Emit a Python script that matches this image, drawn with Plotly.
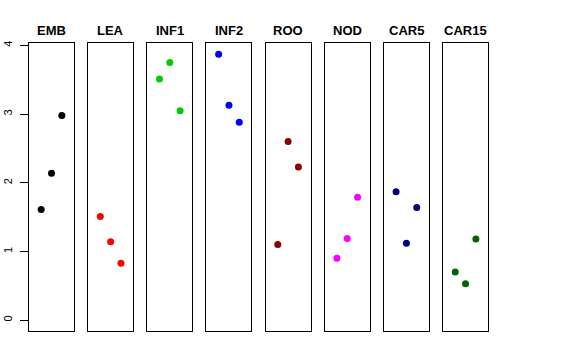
import plotly.graph_objects as go

groups = ["EMB", "LEA", "INF1", "INF2", "ROO", "NOD", "CAR5", "CAR15"]
colors = ["#000000", "#FF0000", "#00CD00", "#0000FF", "#8B0000", "#FF00FF", "#000080", "#006400"]
x_pos = [1, 2, 3]
values = {
    "EMB": [1.61, 2.14, 2.98],
    "LEA": [1.51, 1.14, 0.83],
    "INF1": [3.51, 3.75, 3.05],
    "INF2": [3.87, 3.13, 2.88],
    "ROO": [1.10, 2.60, 2.23],
    "NOD": [0.90, 1.19, 1.79],
    "CAR5": [1.87, 1.12, 1.64],
    "CAR15": [0.70, 0.53, 1.18],
}
y_ticks = [0, 1, 2, 3, 4]

W, H = 576, 360
left0, pitch, pw = 29.0, 59.15, 45.0
ytop, ybot = 43.3, 330.5

fig = go.Figure()
layout = {}
annotations = []
for i, g in enumerate(groups):
    n = "" if i == 0 else str(i + 1)
    x0 = left0 + i * pitch
    dom = [x0 / W, (x0 + pw) / W]
    fig.add_trace(go.Scatter(
        x=x_pos, y=values[g], mode="markers",
        marker=dict(color=colors[i], size=7, line=dict(width=0)),
        xaxis="x" + n, yaxis="y" + n, showlegend=False, hoverinfo="skip"))
    layout["xaxis" + n] = dict(domain=dom, range=[-0.18, 4.18], showticklabels=False,
                               ticks="", showgrid=False, zeroline=False, showline=True,
                               mirror=True, linecolor="#000000", linewidth=1,
                               anchor="y" + n, automargin=False)
    ya = dict(domain=[1 - ybot / H, 1 - ytop / H], range=[-0.15, 4.03], showgrid=False,
              zeroline=False, showline=True, mirror=True, linecolor="#000000",
              linewidth=1, anchor="x" + n, automargin=False)
    if i == 0:
        ya.update(tickmode="array", tickvals=y_ticks, ticktext=[str(t) for t in y_ticks],
                  ticks="outside", ticklen=8, tickcolor="#000000", tickwidth=1,
                  tickangle=-90, tickfont=dict(family="Liberation Sans", size=11, color="#000000"),
                  ticklabelstandoff=4)
    else:
        ya.update(showticklabels=False, ticks="")
    layout["yaxis" + n] = ya
    annotations.append(dict(x=(dom[0] + dom[1]) / 2, y=1 - 30 / H, xref="paper", yref="paper",
                            text="<b>%s</b>" % g, showarrow=False, xanchor="center",
                            yanchor="middle",
                            font=dict(family="Liberation Sans", size=13, color="#000000")))

fig.update_layout(width=W, height=H, margin=dict(l=0, r=0, t=0, b=0, autoexpand=False),
                  paper_bgcolor="white", plot_bgcolor="white",
                  annotations=annotations, **layout)
fig.write_html("out.html", config={"displayModeBar": False},
               post_script="document.body.style.margin='0';")
